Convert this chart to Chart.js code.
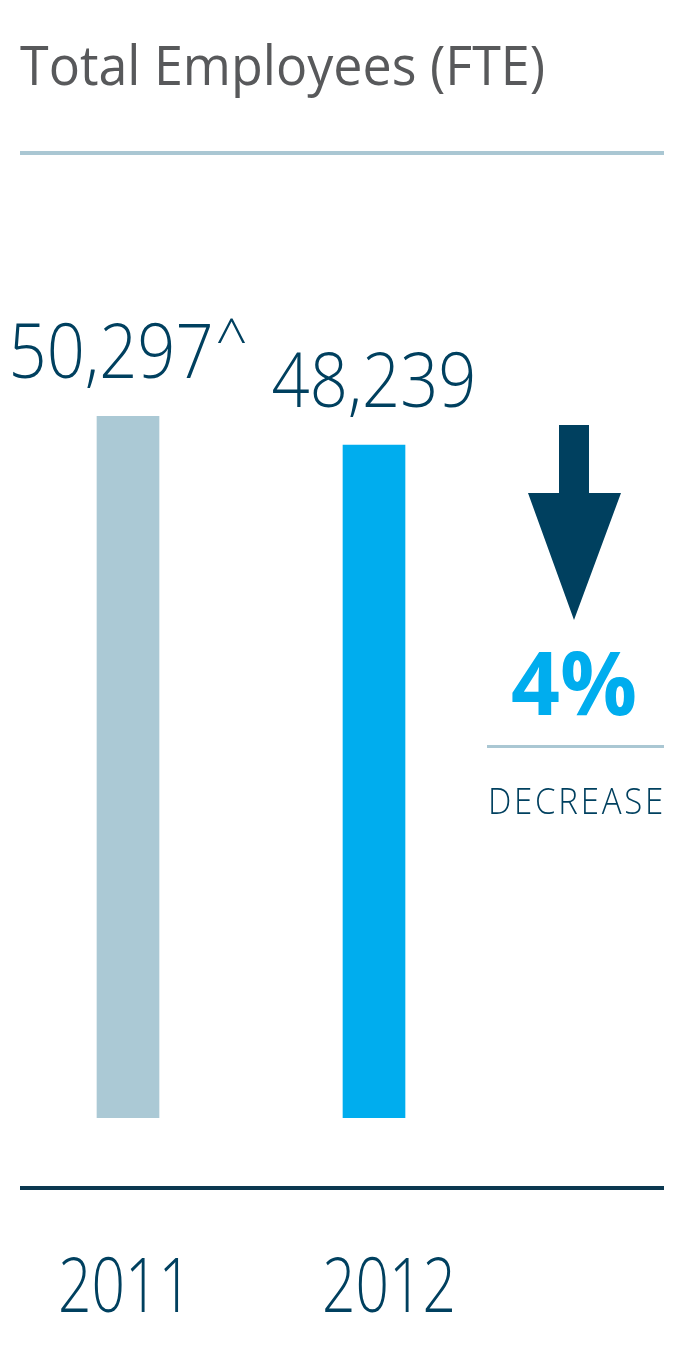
<!DOCTYPE html>
<html>
<head>
<meta charset="utf-8">
<script src="https://cdn.jsdelivr.net/npm/chart.js@4.4.1/dist/chart.umd.min.js"></script>
<style>
  html, body { margin: 0; padding: 0; background: #ffffff; }
  canvas { display: block; }
</style>
</head>
<body>
<canvas id="employeesChart" width="680" height="1352"></canvas>
<script>
const categories = ['2011', '2012'];
const employees = [50297, 48239];
const valueLabels = ['50,297', '48,239'];
const valueMarks = ['^', ''];
const barColours = ['#abc9d5', '#00adee'];
const chartTitle = 'Total Employees (FTE)';
const changeValue = '4%';
const changeWord = 'DECREASE';

const navy = '#00405f';
const ctx = document.getElementById('employeesChart').getContext('2d');

// Title, rules, value labels, year labels and the decrease arrow
const decorations = {
    id: 'decorations',
    afterDraw(chart) {
        const c = chart.ctx;
        const xScale = chart.scales.x;
        const yearNudge = [-3, 15];
        c.save();

        // title
        c.fillStyle = '#58595b';
        c.font = '400 55px "Open Sans"';
        c.textAlign = 'left';
        c.textBaseline = 'alphabetic';
        c.fillText(chartTitle, 20, 85, 525);

        // rule under title
        c.fillStyle = '#aac7d3';
        c.fillRect(20, 151, 644, 4);

        // value labels above bars
        const bars = chart.getDatasetMeta(0).data;
        bars.forEach((bar, i) => {
            c.font = '300 76px "Open Sans"';
            const numW = Math.min(c.measureText(valueLabels[i]).width, 205);
            c.font = '300 56px "Open Sans"';
            const markW = valueMarks[i] ? c.measureText(valueMarks[i]).width + 2 : 0;
            const left = bar.x - (numW + markW) / 2;
            c.fillStyle = navy;
            c.textAlign = 'left';
            c.font = '300 76px "Open Sans"';
            c.fillText(valueLabels[i], left, bar.y - 38, 205);
            if (valueMarks[i]) {
                c.font = '300 56px "Open Sans"';
                c.fillText(valueMarks[i], left + numW + 2, bar.y - 58);
            }
        });

        // baseline rule
        c.fillStyle = '#0b3850';
        c.fillRect(20, 1186, 644, 4);

        // year labels
        c.fillStyle = navy;
        c.textAlign = 'center';
        c.font = '300 76px "Open Sans"';
        categories.forEach((cat, i) => {
            c.fillText(cat, xScale.getPixelForValue(i) + yearNudge[i], 1312, 134);
        });

        // down arrow
        c.fillStyle = navy;
        c.beginPath();
        c.moveTo(559, 425);
        c.lineTo(589, 425);
        c.lineTo(589, 493);
        c.lineTo(621, 493);
        c.lineTo(574, 620);
        c.lineTo(528, 493);
        c.lineTo(559, 493);
        c.closePath();
        c.fill();

        // percent change
        c.fillStyle = '#00adee';
        c.font = '700 88px "Open Sans"';
        c.textAlign = 'center';
        c.fillText(changeValue, 574, 715, 126);

        c.fillStyle = '#aac7d3';
        c.fillRect(487, 745, 177, 3);

        c.fillStyle = navy;
        c.font = '300 36px "Open Sans"';
        c.letterSpacing = '3px';
        c.fillText(changeWord, 577, 814, 178);

        c.restore();
    }
};

new Chart(ctx, {
    type: 'bar',
    data: {
        labels: categories,
        datasets: [{
            label: 'Employees',
            data: employees,
            backgroundColor: barColours,
            barThickness: 62,
            borderWidth: 0
        }]
    },
    options: {
        responsive: false,
        animation: false,
        layout: {
            padding: { left: 5, right: 183, top: 281, bottom: 234 }
        },
        scales: {
            x: { display: false },
            y: { display: false, min: 0, max: 60000 }
        },
        plugins: {
            legend: { display: false },
            tooltip: { enabled: false }
        }
    },
    plugins: [decorations]
});
</script>
</body>
</html>
